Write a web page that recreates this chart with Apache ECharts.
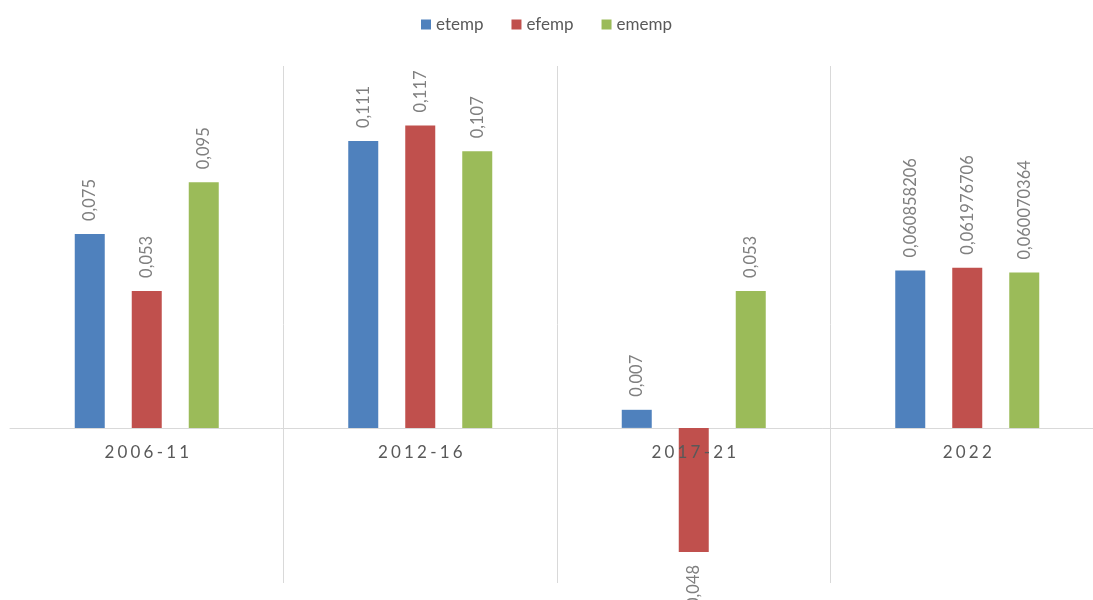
<!DOCTYPE html>
<html><head><meta charset="utf-8">
<script src="https://cdn.jsdelivr.net/npm/echarts@6/dist/echarts.min.js"></script>
<style>html,body{margin:0;padding:0;background:#fff}#c{width:1093px;height:600px}</style>
</head><body><div id="c"></div>
<script>
const categories = ['2006-11', '2012-16', '2017-21', '2022'];
const etemp = [0.075, 0.111, 0.007, 0.060858206];
const efemp = [0.053, 0.117, -0.048, 0.061976706];
const ememp = [0.095, 0.107, 0.053, 0.060070364];
const seriesNames = ['etemp', 'efemp', 'ememp'];
const colors = ['#4F81BD', '#C0504D', '#9BBB59'];

const font = 'Lato, "Open Sans", sans-serif';
function fmt(v) { return String(v).replace('.', ','); }
function mk(name, arr, color) {
  return {
    name, type: 'bar', barWidth: 30, barGap: '90%',
    itemStyle: { color },
    data: arr.map(v => v < 0 ? {
      value: v,
      label: { position: 'bottom', align: 'right', distance: 13 }
    } : v),
    label: {
      show: true, position: 'top', rotate: 90, align: 'left', verticalAlign: 'middle',
      distance: 13, color: '#7f7f7f', fontSize: 16.5, fontFamily: font,
      formatter: p => fmt(p.value)
    }
  };
}
const chart = echarts.init(document.getElementById('c'));
chart.setOption({
  animation: false,
  legend: {
    top: 11, left: 'center', itemWidth: 10, itemHeight: 10, itemGap: 28,
    icon: 'rect',
    textStyle: { color: '#595959', fontSize: 17, fontFamily: font },
    data: seriesNames
  },
  grid: [
    { left: 10, top: 66, width: 1094, height: 517, outerBoundsMode: 'none', containLabel: false },
    { left: 10, top: 66, width: 1094, height: 363, outerBoundsMode: 'none', containLabel: false }
  ],
  xAxis: [{
    type: 'category', data: categories, gridIndex: 0,
    axisLine: { show: true, onZero: true, lineStyle: { color: '#d9d9d9', width: 1 } },
    axisTick: { show: false },
    axisLabel: { show: false },
    splitLine: { show: true, interval: (i) => i !== 0, lineStyle: { color: '#d9d9d9', width: 1 } }
  }, {
    type: 'category', data: categories, gridIndex: 1, z: 20,
    axisLine: { show: false },
    axisTick: { show: false },
    axisLabel: {
      interval: 0, hideOverlap: false,
      color: '#595959', fontSize: 17, fontFamily: font, margin: 15,
      formatter: v => v.split('').map(ch => '{c|' + ch + '}').join(''),
      rich: { c: { color: '#595959', fontSize: 17, fontFamily: font, padding: [0, 1.6, 0, 1.6] } }
    },
    splitLine: { show: false }
  }],
  yAxis: [
    { type: 'value', min: -0.06, max: 0.14, show: false, splitLine: { show: false }, gridIndex: 0 },
    { type: 'value', min: 0, max: 1, show: false, splitLine: { show: false }, gridIndex: 1 }
  ],
  series: [mk(seriesNames[0], etemp, colors[0]), mk(seriesNames[1], efemp, colors[1]), mk(seriesNames[2], ememp, colors[2])]
});
</script></body></html>
